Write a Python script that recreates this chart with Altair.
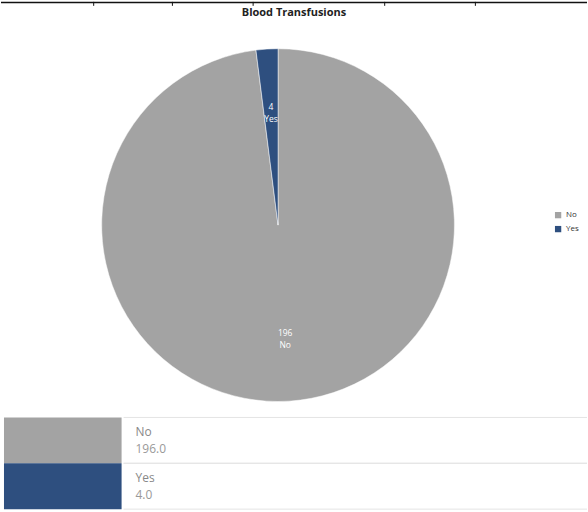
import altair as alt
import pandas as pd

categories = ["No", "Yes"]
counts = [196, 4]
colors = ["#a3a3a3", "#2e4f7f"]

df = pd.DataFrame({"category": categories, "count": counts})
df["order"] = list(range(len(categories)))
df["label"] = [f"{c}\n{k}" for c, k in zip(counts, categories)]

color_scale = alt.Scale(domain=categories, range=colors)
dummy = alt.Data(values=[{}])

# fragment of a table border at the very top of the page
top_rule = alt.Chart(dummy).mark_rule(color="#111", strokeWidth=1.5).encode(
    x=alt.value(0), x2=alt.value(588), y=alt.value(0.75)
)
tick_layers = [
    alt.Chart(dummy).mark_rule(color="#111", strokeWidth=1).encode(
        x=alt.value(xx), y=alt.value(0), y2=alt.value(4)
    )
    for xx in (93, 172, 253, 385, 476)
]
topline = alt.layer(top_rule, *tick_layers).properties(width=588, height=3)

# pie
base = alt.Chart(df).encode(
    theta=alt.Theta("count:Q", stack=True),
    order=alt.Order("order:Q"),
)
arc = base.mark_arc(outerRadius=177, stroke="white", strokeWidth=0.5).encode(
    x=alt.value(278),
    y=alt.value(204),
    color=alt.Color(
        "category:N",
        scale=color_scale,
        legend=alt.Legend(
            title=None,
            orient="none",
            legendX=555,
            legendY=190,
            symbolType="square",
            symbolSize=40,
            symbolStrokeWidth=0,
            labelFontSize=8,
            labelColor="#333",
            labelFont="Open Sans",
            rowPadding=6,
        ),
    ),
)
labels = base.mark_text(
    radius=114, dy=-5, fontSize=8.5, color="white", lineBreak="\n", font="Open Sans", lineHeight=12
).encode(x=alt.value(278), y=alt.value(204), text="label:N")

pie = alt.layer(arc, labels).properties(
    width=588,
    height=396,
    title=alt.TitleParams(
        "Blood Transfusions",
        fontSize=11,
        fontWeight="bold",
        color="#222",
        font="Open Sans",
        anchor="middle",
        offset=4,
    ),
)

# table under the pie
band = alt.Scale(paddingInner=0, paddingOuter=0)
tbase = alt.Chart(df).encode(
    y=alt.Y("category:N", sort=categories, axis=None, scale=band)
)
top_lines = alt.Chart(df).mark_rule(color="#e4e4e4", strokeWidth=1).encode(
    y=alt.Y("category:N", sort=categories, axis=None, bandPosition=0, scale=band),
    x=alt.value(123), x2=alt.value(588),
)
bottom_lines = alt.Chart(df).mark_rule(color="#e4e4e4", strokeWidth=1).encode(
    y=alt.Y("category:N", sort=categories, axis=None, bandPosition=1, scale=band),
    x=alt.value(123), x2=alt.value(588),
)
swatch = tbase.mark_rect().encode(
    x=alt.value(3),
    x2=alt.value(121),
    color=alt.Color("category:N", scale=color_scale, legend=None),
)
names = tbase.mark_text(align="left", dy=-8, fontSize=12, color="#888", font="Open Sans").encode(
    x=alt.value(135), text="category:N"
)
vals = tbase.mark_text(align="left", dy=9, fontSize=12, color="#999", font="Open Sans").encode(
    x=alt.value(135), text=alt.Text("count:Q", format=".1f")
)
table = alt.layer(top_lines, bottom_lines, swatch, names, vals).properties(width=588, height=92)

chart = (
    alt.vconcat(topline, pie, table, spacing=0)
    .resolve_scale(color="independent")
    .properties(padding=0)
    .configure_view(stroke=None)
)

chart.save("out.html", embed_options={"renderer": "svg", "actions": False})
